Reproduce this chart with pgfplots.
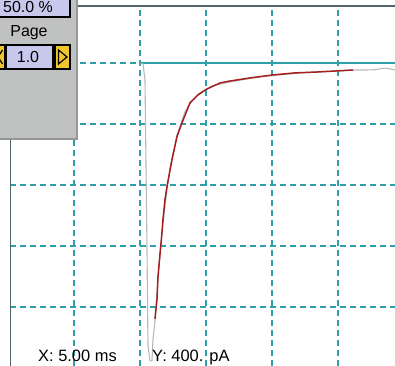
\documentclass[border=0pt]{standalone}
\usepackage{fontspec}
\setmainfont{Liberation Sans}
\usepackage{pgfplots}
\pgfplotsset{compat=1.18}
\definecolor{gridteal}{RGB}{45,160,170}
\definecolor{bordercol}{RGB}{80,100,110}
\definecolor{panelgray}{RGB}{192,193,193}
\definecolor{panelshadow}{RGB}{150,150,150}
\definecolor{lavender}{RGB}{200,200,236}
\definecolor{btnyellow}{RGB}{240,198,45}
\definecolor{tracegray}{RGB}{185,185,185}
\definecolor{fitred}{RGB}{165,30,30}
\begin{document}
\begin{tikzpicture}
\useasboundingbox (0,0) rectangle (395bp,366bp);
\clip (0,0) rectangle (395bp,366bp);
\begin{axis}[at={(10bp,0bp)}, anchor=south west, scale only axis,
  width=385bp, height=360bp,
  xmin=0.152, xmax=29.318, ymin=-1986.9, ymax=373.77,
  axis line style={draw=none},
  xtick={5,10,15,20,25}, ytick={-1600,-1200,-800,-400,0},
  xticklabels={}, yticklabels={}, major tick length=0pt,
  grid=major,
  major grid style={gridteal, line width=1.6bp, dash pattern=on 6bp off 4bp},
  clip=true]
\addplot[gridteal, line width=1.6bp] coordinates {(10,0) (29.4,0)};
\addplot[tracegray, line width=1.1bp] coordinates {
(10.0,-6) (10.227,-6) (10.379,-111) (10.530,-1221) (10.606,-1855) (10.758,-1953)
(10.909,-1953) (10.985,-1809) (11.136,-1691) (11.364,-1420) (11.515,-1254)
(11.742,-1050) (12.045,-830) (12.273,-686) (12.803,-470) (13.409,-320)
(14.000,-240) (14.545,-196) (15.5,-150) (16.818,-124) (19.091,-91)
(22.121,-65) (25.152,-52) (26.136,-46) (27.045,-46) (27.803,-44) (28.56,-33) (29.318,-45)};
\addplot[fitred, line width=1.5bp] coordinates {
(11.136,-1678) (11.288,-1548) (11.364,-1398) (11.667,-1110) (11.742,-1025)
(11.894,-895) (12.045,-810) (12.424,-634) (12.803,-483) (13.182,-392)
(13.788,-261) (14.394,-209) (15.076,-170) (16.061,-131) (16.818,-118)
(18.333,-98) (20.076,-78) (21.742,-65) (23.409,-59) (26.136,-46)};
\draw[bordercol, line width=1.5bp] (rel axis cs:0,0) -- (rel axis cs:0,1) -- (rel axis cs:1,1);
\end{axis}
\begin{scope}[shift={(0bp,366bp)}, x=1bp, y=-1bp, font=\fontsize{16}{19}\selectfont]
  \fill[panelgray] (0,0) rectangle (78,140);
  \draw[panelshadow, line width=2bp] (77,0) -- (77,139) -- (0,139);
  \draw[black, fill=lavender, line width=1.5bp] (-2,-2) rectangle (70,17);
  \node[anchor=base east, inner sep=0pt] at (53,13) {50.0 \%};
  \node[anchor=base, inner sep=0pt] at (29,37) {Page};
  \draw[black, fill=lavender, line width=1.5bp] (6,45) rectangle (53,69);
  \node[anchor=base, inner sep=0pt] at (28,63) {1.0};
  \draw[black, fill=btnyellow, line width=1.2bp] (-2,45) rectangle (5,69);
  \draw[black, line width=1.2bp] (2.5,50) -- (-2,57) -- (2.5,64);
  \draw[black, fill=btnyellow, line width=1.2bp] (55,45) rectangle (70,69);
  \draw[black, fill=btnyellow, line width=1.2bp] (58.5,50) -- (67,57) -- (58.5,64) -- cycle;
  \node[anchor=base west, inner sep=0pt, font=\fontsize{16.5}{20}\selectfont] at (38,362) {X: 5.00 ms};
  \node[anchor=base west, inner sep=0pt, font=\fontsize{16.5}{20}\selectfont] at (152,362) {Y: 400. pA};
\end{scope}
\end{tikzpicture}
\end{document}
